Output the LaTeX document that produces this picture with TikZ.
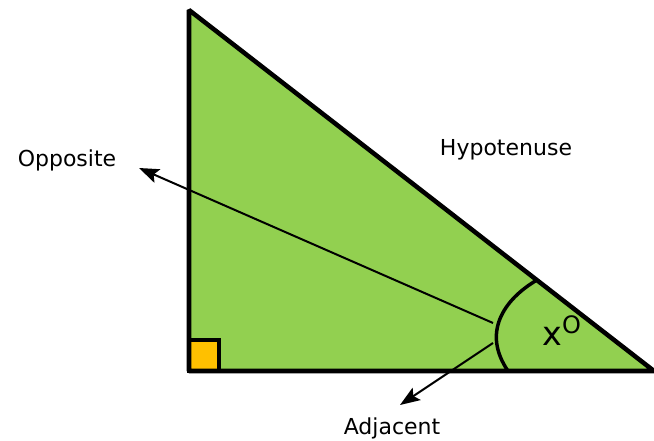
\documentclass[tikz,border=0pt]{standalone}
\usepackage{fontspec}
\setmainfont{DejaVu Sans}
\usetikzlibrary{arrows.meta,positioning}
\definecolor{trigreen}{HTML}{92D050}
\definecolor{sqorange}{HTML}{FFC000}

\begin{document}
\begin{tikzpicture}[x=0.75pt,y=-0.75pt,
    side/.style={draw=black, line width=3.4pt},
    pointer/.style={-{Stealth[length=15pt,width=11pt,inset=3pt]}, line width=1.5pt},
    lbl/.style={font=\fontsize{16.5}{20}\selectfont, inner sep=0pt}
  ]
    \useasboundingbox (0,0) rectangle (654,441);

    % Triangle
    \coordinate (top) at (189,10);
    \coordinate (rt) at (189,371);
    \coordinate (tip) at (654,371);
    \fill[trigreen] (top) -- (rt) -- (tip) -- cycle;
    \draw[side, fill=sqorange] (rt) rectangle (219,340);
    \draw[side, line join=bevel] (top) -- (rt) -- (tip) -- cycle;

    % Angle mark
    \draw[side, line width=2.6pt] (537,280) .. controls (503,300) and (482,333) .. (508,371);
    \node[font=\fontsize{25}{30}\selectfont, inner sep=0pt] (ang) at (562,331) {x\textsuperscript{\fontsize{18}{20}\selectfont O}};

    % Labels
    \node[lbl] (opp) at (67,160) {Opposite};
    \node[lbl] (hyp) at (506,150) {Hypotenuse};
    \node[lbl] (adj) at (392,428) {Adjacent};

    % Pointers
    \coordinate (oppfoot) at (493,323);
    \coordinate (adjfoot) at (493,343);
    \coordinate (opptip) at (139,168);
    \coordinate (adjtip) at (400,405);
    \draw[pointer] (oppfoot) -- (opptip);
    \draw[pointer] (adjfoot) -- (adjtip);

\end{tikzpicture}
\end{document}
